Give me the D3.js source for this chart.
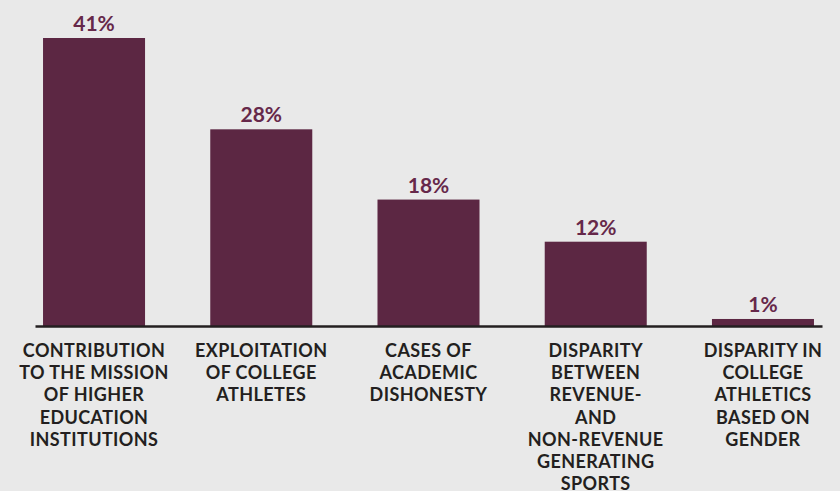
<!DOCTYPE html>
<html>
<head>
<meta charset="utf-8">
<script src="https://cdn.jsdelivr.net/npm/d3@7"></script>
<style>
  html, body { margin: 0; padding: 0; background: #e9e9e9; }
  svg { display: block; font-family: Lato, "Open Sans", sans-serif; }
</style>
</head>
<body>
<div class="canvas"></div>
<script>
// data
const categories = ['contribution', 'exploitation', 'dishonesty', 'revenue', 'gender'];
const values = [41, 28, 18, 12, 1];
const labelLines = [
  ['CONTRIBUTION', 'TO THE MISSION', 'OF HIGHER', 'EDUCATION', 'INSTITUTIONS'],
  ['EXPLOITATION', 'OF COLLEGE', 'ATHLETES'],
  ['CASES OF', 'ACADEMIC', 'DISHONESTY'],
  ['DISPARITY', 'BETWEEN', 'REVENUE-', 'AND', 'NON-REVENUE', 'GENERATING', 'SPORTS'],
  ['DISPARITY IN', 'COLLEGE', 'ATHLETICS', 'BASED ON', 'GENDER']
];

const width = 840;
const height = 491;
const baseline = 326;

const svg = d3.select('.canvas')
              .append('svg')
              .attr('width', width)
              .attr('height', height);

svg.append('rect')
   .attr('width', width)
   .attr('height', height)
   .attr('fill', '#e9e9e9');

// scales
const x = d3.scaleBand()
            .domain(categories)
            .range([35, 822])
            .paddingInner(0.39)
            .paddingOuter(0.048);

const y = d3.scaleLinear()
            .domain([0, 41])
            .range([baseline, 38]);

// bars
svg.selectAll('rect.bar')
   .data(values)
   .enter()
   .append('rect')
   .attr('class', 'bar')
   .attr('x', (d, i) => x(categories[i]))
   .attr('y', d => y(d))
   .attr('width', x.bandwidth())
   .attr('height', d => baseline - y(d))
   .attr('fill', '#5c2743');

// value labels
svg.selectAll('text.value')
   .data(values)
   .enter()
   .append('text')
   .attr('class', 'value')
   .attr('x', (d, i) => x(categories[i]) + x.bandwidth() / 2)
   .attr('y', d => y(d) - 7)
   .attr('text-anchor', 'middle')
   .attr('font-size', 21)
   .attr('font-weight', 700)
   .attr('fill', '#66284a')
   .text(d => d + '%');

// axis line
const xAxis = d3.axisBottom(x).tickSize(0).tickFormat('');
const xAxisGroup = svg.append('g')
                      .attr('transform', `translate(0, ${baseline})`)
                      .call(xAxis);
xAxisGroup.select('.domain')
          .attr('stroke', '#231f20')
          .attr('stroke-width', 2.5);

// category labels (last line of the 4th label runs off the bottom, as in the original)
const labels = svg.selectAll('text.cat')
   .data(labelLines)
   .enter()
   .append('text')
   .attr('class', 'cat')
   .attr('text-anchor', 'middle')
   .attr('font-size', 18)
   .attr('font-weight', 700)
   .attr('letter-spacing', 0.4)
   .attr('fill', '#231f20');

labels.each(function(lines, i) {
  const cx = x(categories[i]) + x.bandwidth() / 2;
  d3.select(this).selectAll('tspan')
    .data(lines)
    .enter()
    .append('tspan')
    .attr('x', cx)
    .attr('y', (d, j) => 357 + j * 22.2)
    .text(d => d);
});
</script>
</body>
</html>
